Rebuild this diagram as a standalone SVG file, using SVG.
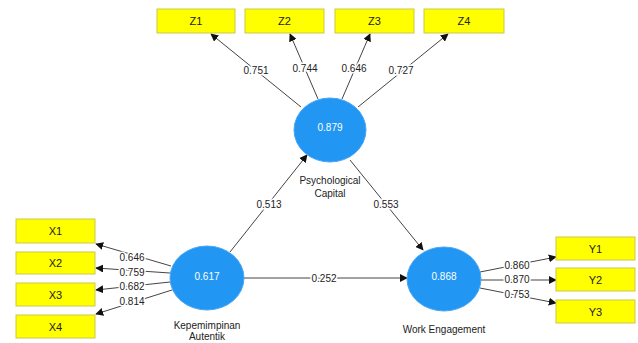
<svg xmlns="http://www.w3.org/2000/svg" width="638" height="343" viewBox="0 0 638 343">
<style>
.box{fill:#ffff00;stroke:#c9c94a;stroke-width:1}
.lv{fill:#2196f3;stroke:#4aa6f5;stroke-width:1}
.bt{font-family:"Liberation Sans",Arial,sans-serif;font-size:11px;fill:#222;text-anchor:middle;dominant-baseline:central}
.ct{font-family:"Liberation Sans",Arial,sans-serif;font-size:10px;fill:#ffffff;text-anchor:middle;dominant-baseline:central}
.nm{font-family:"Liberation Sans",Arial,sans-serif;font-size:10px;fill:#222;text-anchor:middle;dominant-baseline:central}
.lb{font-family:"Liberation Sans",Arial,sans-serif;font-size:10px;fill:#222;text-anchor:middle;dominant-baseline:central;stroke:#ffffff;stroke-width:3;paint-order:stroke}
.cn{stroke:#444;stroke-width:1;fill:none;marker-end:url(#ah)}
</style>
<defs>
<marker id="ah" viewBox="0 0 10 10" refX="9" refY="5" markerWidth="8" markerHeight="8" markerUnits="userSpaceOnUse" orient="auto">
<path d="M0,0 L10,5 L0,10 z" fill="#111"/>
</marker>
</defs>
<g id="connectors">
<line class="cn" x1="301" y1="107" x2="211" y2="34"/>
<line class="cn" x1="318" y1="99" x2="290" y2="34"/>
<line class="cn" x1="342" y1="99" x2="370" y2="34"/>
<line class="cn" x1="358" y1="107" x2="448" y2="34"/>
<line class="cn" x1="230" y1="252" x2="307" y2="155"/>
<line class="cn" x1="350" y1="160" x2="423" y2="250"/>
<line class="cn" x1="244" y1="278" x2="407" y2="278"/>
<line class="cn" x1="171" y1="266" x2="96" y2="244"/>
<line class="cn" x1="170" y1="273" x2="96" y2="268"/>
<line class="cn" x1="170" y1="282" x2="96" y2="290"/>
<line class="cn" x1="172" y1="290" x2="96" y2="314"/>
<line class="cn" x1="480" y1="272" x2="556" y2="257"/>
<line class="cn" x1="481" y1="280" x2="556" y2="280"/>
<line class="cn" x1="480" y1="288" x2="556" y2="303"/>
<text class="lb" x="256" y="70">0.751</text>
<text class="lb" x="305" y="68">0.744</text>
<text class="lb" x="354" y="68">0.646</text>
<text class="lb" x="401" y="70">0.727</text>
<text class="lb" x="269" y="204">0.513</text>
<text class="lb" x="386" y="204">0.553</text>
<text class="lb" x="324" y="278">0.252</text>
<text class="lb" x="132" y="257">0.646</text>
<text class="lb" x="132" y="272">0.759</text>
<text class="lb" x="132" y="286">0.682</text>
<text class="lb" x="132" y="301">0.814</text>
<text class="lb" x="517" y="265">0.860</text>
<text class="lb" x="517" y="279">0.870</text>
<text class="lb" x="517" y="294">0.753</text>
</g>
<g id="Z1"><rect class="box" x="157" y="9" width="78" height="24"/><text class="bt" x="196" y="21">Z1</text></g>
<g id="Z2"><rect class="box" x="245" y="9" width="79" height="24"/><text class="bt" x="284.5" y="21">Z2</text></g>
<g id="Z3"><rect class="box" x="335" y="9" width="79" height="24"/><text class="bt" x="374.5" y="21">Z3</text></g>
<g id="Z4"><rect class="box" x="424" y="9" width="80" height="24"/><text class="bt" x="464" y="21">Z4</text></g>
<g id="X1"><rect class="box" x="16" y="219" width="79" height="24"/><text class="bt" x="55.5" y="231">X1</text></g>
<g id="X2"><rect class="box" x="16" y="252" width="79" height="22"/><text class="bt" x="55.5" y="263">X2</text></g>
<g id="X3"><rect class="box" x="16" y="283" width="79" height="23"/><text class="bt" x="55.5" y="294.5">X3</text></g>
<g id="X4"><rect class="box" x="16" y="315" width="79" height="23"/><text class="bt" x="55.5" y="326.5">X4</text></g>
<g id="Y1"><rect class="box" x="556" y="237" width="79" height="23"/><text class="bt" x="595.5" y="248.5">Y1</text></g>
<g id="Y2"><rect class="box" x="556" y="268" width="79" height="23"/><text class="bt" x="595.5" y="279.5">Y2</text></g>
<g id="Y3"><rect class="box" x="556" y="300" width="79" height="23"/><text class="bt" x="595.5" y="311.5">Y3</text></g>
<g id="PsychologicalCapital"><ellipse class="lv" cx="330" cy="130" rx="36" ry="32"/><text class="ct" x="330" y="127">0.879</text><text class="nm" x="330" y="180">Psychological</text><text class="nm" x="330" y="193">Capital</text></g>
<g id="KepemimpinanAutentik"><ellipse class="lv" cx="207" cy="278" rx="37" ry="32"/><text class="ct" x="207" y="276">0.617</text><text class="nm" x="207" y="325">Kepemimpinan</text><text class="nm" x="207" y="336">Autentik</text></g>
<g id="WorkEngagement"><ellipse class="lv" cx="444" cy="279" rx="37" ry="32"/><text class="ct" x="444" y="276">0.868</text><text class="nm" x="444" y="329">Work Engagement</text></g>
</svg>
